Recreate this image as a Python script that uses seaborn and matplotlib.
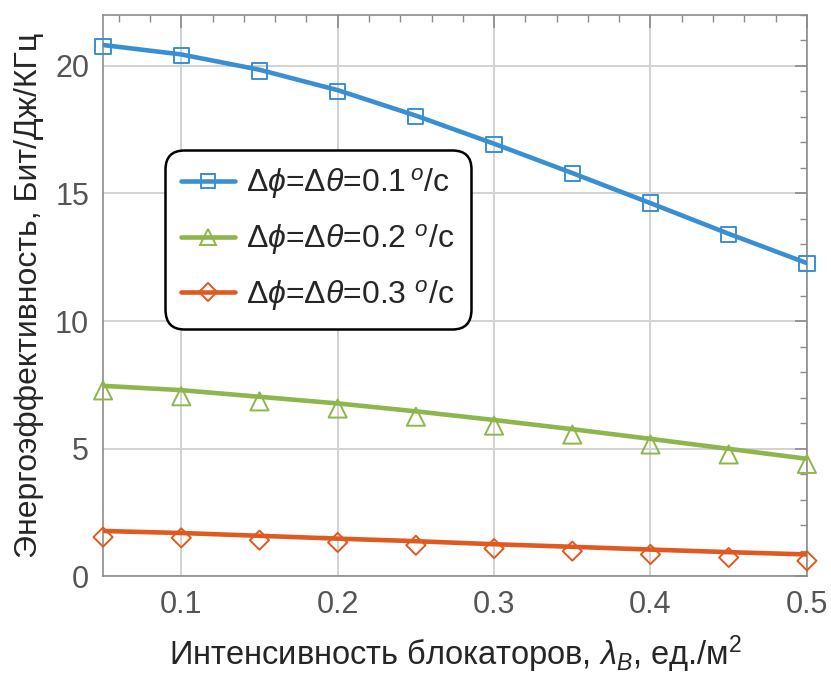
import numpy as np
import pandas as pd
import matplotlib
matplotlib.use("Agg")
import matplotlib.pyplot as plt
import seaborn as sns
from matplotlib.lines import Line2D
from matplotlib.ticker import MultipleLocator

# ---- data ----
x_vals = [0.05, 0.10, 0.15, 0.20, 0.25, 0.30, 0.35, 0.40, 0.45, 0.50]
series_names = [r"$\Delta\phi$=$\Delta\theta$=0.1$\,^{o}$/c",
                r"$\Delta\phi$=$\Delta\theta$=0.2 $^{o}$/c",
                r"$\Delta\phi$=$\Delta\theta$=0.3 $^{o}$/c"]
line_01 = [20.82, 20.45, 19.85, 19.05, 18.05, 16.95, 15.80, 14.62, 13.42, 12.27]
line_02 = [7.46, 7.29, 7.03, 6.77, 6.46, 6.12, 5.76, 5.38, 4.99, 4.60]
line_03 = [1.77, 1.69, 1.58, 1.47, 1.37, 1.25, 1.15, 1.04, 0.94, 0.85]
mark_01 = [20.76, 20.42, 19.80, 19.00, 18.02, 16.92, 15.79, 14.63, 13.40, 12.25]
mark_02 = [7.28, 7.05, 6.85, 6.57, 6.25, 5.90, 5.55, 5.16, 4.77, 4.40]
mark_03 = [1.53, 1.50, 1.41, 1.32, 1.21, 1.08, 0.98, 0.85, 0.73, 0.60]
x_ticks = [0.1, 0.2, 0.3, 0.4, 0.5]
y_ticks = [0, 5, 10, 15, 20]

colors = ["#3a8fd2", "#8db64c", "#e0591f"]
markers = ["s", "^", "D"]

lines_df = pd.concat([
    pd.DataFrame({"x": x_vals, "y": v, "s": n})
    for v, n in zip([line_01, line_02, line_03], series_names)
])
marks_df = pd.concat([
    pd.DataFrame({"x": x_vals, "y": v, "s": n})
    for v, n in zip([mark_01, mark_02, mark_03], series_names)
])

sns.set_style("white")
plt.rcParams["font.family"] = ["Liberation Sans", "DejaVu Sans"]
plt.rcParams["mathtext.fontset"] = "custom"
plt.rcParams["mathtext.rm"] = "Liberation Sans"
plt.rcParams["mathtext.it"] = "Liberation Sans:italic"
plt.rcParams["mathtext.bf"] = "Liberation Sans:bold"

fig = plt.figure(figsize=(8.31, 6.77), dpi=100)
ax = fig.add_axes([0.124, 0.149, 0.847, 0.829])

palette = dict(zip(series_names, colors))
sns.lineplot(data=lines_df, x="x", y="y", hue="s", palette=palette,
             linewidth=3.3, legend=False, ax=ax, zorder=3)
for name, m, c in zip(series_names, markers, colors):
    sub = marks_df[marks_df["s"] == name]
    ms = 120 if m == "s" else (170 if m == "^" else 95)
    sns.scatterplot(data=sub, x="x", y="y", marker=m, s=ms,
                    facecolors="none", edgecolor=c, linewidth=1.4,
                    legend=False, ax=ax, zorder=4, clip_on=False)

ax.set_xlim(0.05, 0.5)
ax.set_ylim(0, 22)
ax.set_xticks(x_ticks)
ax.set_xticklabels([f"{t:.1f}" for t in x_ticks])
ax.set_yticks(y_ticks)
ax.xaxis.set_minor_locator(MultipleLocator(0.02))
ax.yaxis.set_minor_locator(MultipleLocator(1))
ax.grid(True, which="major", color="#d2d2d2", linewidth=1.4, zorder=0)
ax.set_axisbelow(True)

for sp in ax.spines.values():
    sp.set_color("#8c8c8c")
    sp.set_linewidth(1.2)
ax.tick_params(which="both", direction="in", top=True, right=True,
               color="#8c8c8c", labelcolor="#555555", labelsize=22, pad=10)
ax.tick_params(which="major", length=9, width=1.2)
ax.tick_params(which="minor", length=5, width=1.0)

ax.set_xlabel(r"Интенсивность блокаторов, $\lambda_B$, ед./м$^2$",
              fontsize=23.5, labelpad=10)
ax.set_ylabel("Энергоэффективность, Бит/Дж/КГц", fontsize=23, labelpad=8)

handles = [Line2D([0], [0], color=c, linewidth=3.3, marker=m,
                  markersize=(10.5 if m == "s" else 12 if m == "^" else 9.5),
                  markerfacecolor="none", markeredgecolor=c, markeredgewidth=1.4)
           for c, m in zip(colors, markers)]
leg = ax.legend(handles, series_names, loc="upper left",
                bbox_to_anchor=(0.088, 0.759), fontsize=23, frameon=True,
                fancybox=True, edgecolor="black", framealpha=1,
                handlelength=1.7, handletextpad=0.35, labelspacing=0.65,
                borderpad=0.5, borderaxespad=0)
leg.get_frame().set_linewidth(1.8)
leg.get_frame().set_boxstyle("round", pad=0, rounding_size=0.6)
leg.set_zorder(10)

fig.savefig("out.png", dpi=100)
